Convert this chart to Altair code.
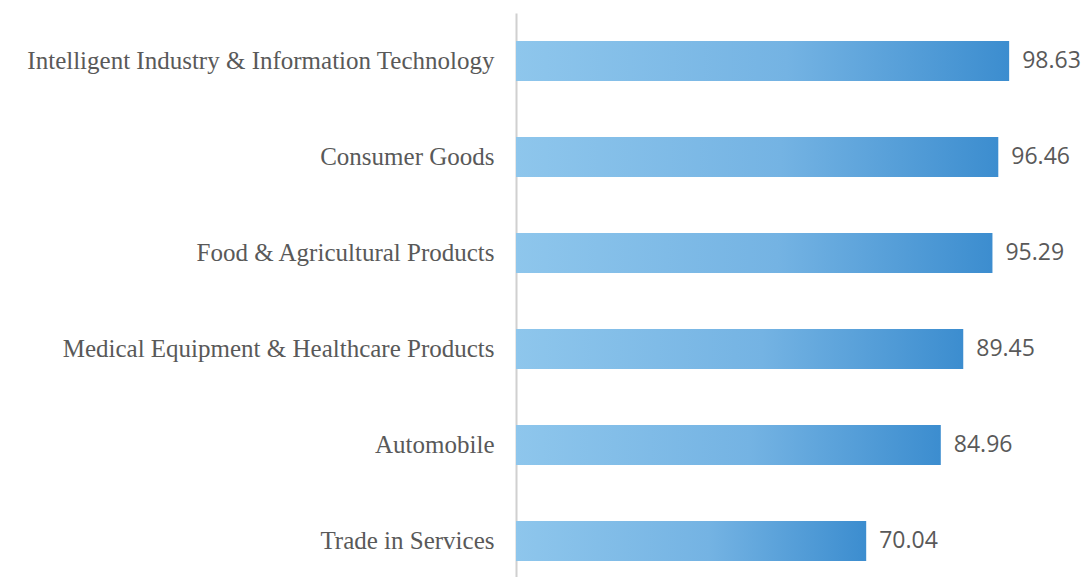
import altair as alt
import pandas as pd

categories = [
    "Intelligent Industry & Information Technology",
    "Consumer Goods",
    "Food & Agricultural Products",
    "Medical Equipment & Healthcare Products",
    "Automobile",
    "Trade in Services",
]
values = [98.63, 96.46, 95.29, 89.45, 84.96, 70.04]

df = pd.DataFrame({"category": categories, "value": values})

y_enc = alt.Y(
    "category:N",
    sort=categories,
    scale=alt.Scale(range=[0, 576], paddingInner=0.5833, paddingOuter=0.29165),
    axis=alt.Axis(
        title=None,
        ticks=False,
        labelFont="Liberation Serif",
        labelFontSize=25,
        labelColor="#595959",
        labelLimit=0,
        labelPadding=22,
        domainColor="#d0d0d0",
        domainWidth=2,
        grid=False,
    ),
)
x_enc = alt.X("value:Q", scale=alt.Scale(domain=[0, 113.4], nice=False), axis=None)

bars = alt.Chart(df).mark_bar(
    color=alt.Gradient(
        gradient="linear",
        x1=0, x2=1, y1=0, y2=0,
        stops=[
            alt.GradientStop(color="#8ec6ec", offset=0),
            alt.GradientStop(color="#74b3e3", offset=0.55),
            alt.GradientStop(color="#3c8dcf", offset=1),
        ],
    )
).encode(x=x_enc, y=y_enc)

labels = alt.Chart(df).mark_text(
    align="left", baseline="middle", dx=13, font="Open Sans", fontSize=23, color="#595959"
).encode(x=x_enc, y=y_enc, text=alt.Text("value:Q", format=".2f"))

chart = (
    alt.layer(bars, labels)
    .properties(
        width=567,
        height=564,
        autosize=alt.AutoSizeParams(type="none"),
        padding={"left": 508, "top": 5, "right": 0, "bottom": 0},
    )
    .configure_view(stroke=None)
)

chart.save("out.html", embed_options={"renderer": "svg", "actions": False})
